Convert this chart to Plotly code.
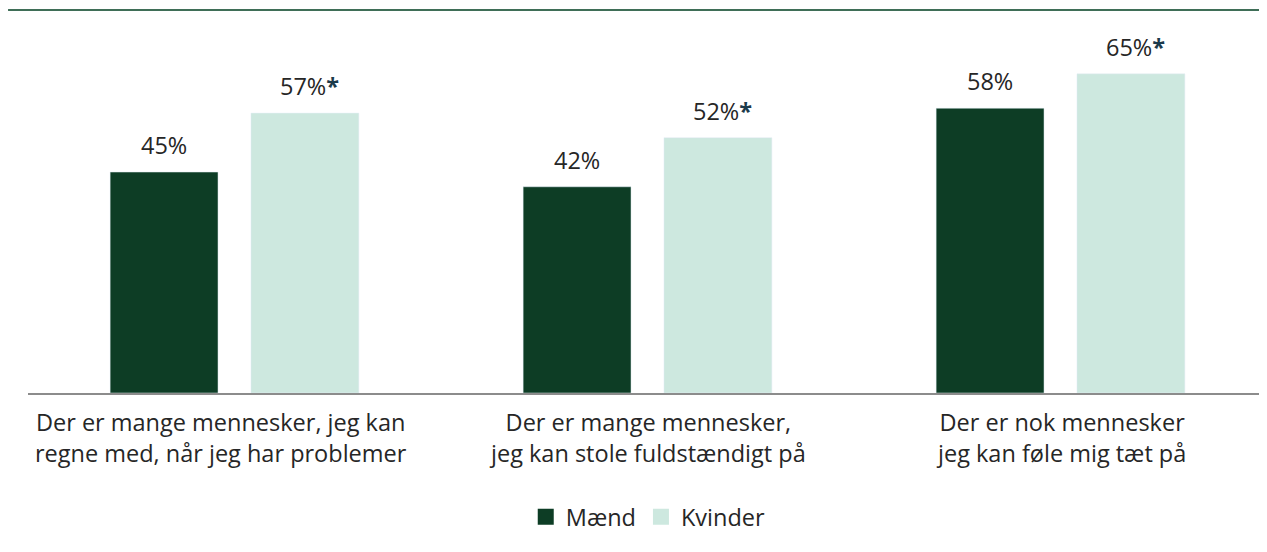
import plotly.graph_objects as go

categories = [
    "Der er mange mennesker, jeg kan<br>regne med, når jeg har problemer",
    "Der er mange mennesker,<br>jeg kan stole fuldstændigt på",
    "Der er nok mennesker<br>jeg kan føle mig tæt på",
]
maend = [45, 42, 58]
kvinder = [57, 52, 65]
kvinder_sig = [True, True, True]

C_M = "#0d3d25"
C_K = "#cde8df"
TXT = "#262626"
FONT = "Open Sans"
FS = 23.5
label_xshift = [-14, 0, 0]

fig = go.Figure()
fig.add_trace(go.Bar(x=categories, y=maend, name="Mænd", marker_color=C_M,
                     showlegend=False, hoverinfo="skip"))
fig.add_trace(go.Bar(x=categories, y=kvinder, name="Kvinder", marker_color=C_K,
                     showlegend=False, hoverinfo="skip"))
# legend proxies
fig.add_trace(go.Scatter(x=[None], y=[None], mode="markers", name="Mænd",
                         marker=dict(symbol="square", size=16, color=C_M)))
fig.add_trace(go.Scatter(x=[None], y=[None], mode="markers", name="Kvinder",
                         marker=dict(symbol="square", size=16, color=C_K)))

ann = []
for c, m, k, s, lx in zip(categories, maend, kvinder, kvinder_sig, label_xshift):
    ann.append(dict(x=c, y=m, xref="x", yref="y", text=f"{m}%", showarrow=False,
                    xshift=-70.5, yshift=9, yanchor="bottom",
                    font=dict(family=FONT, size=FS, color=TXT)))
    star = "<b><span style='color:#1b3a4b'>*</span></b>" if s else ""
    ann.append(dict(x=c, y=k, xref="x", yref="y", text=f"{k}%{star}", showarrow=False,
                    xshift=70.5 + (4 if s else 0), yshift=9, yanchor="bottom",
                    font=dict(family=FONT, size=FS, color=TXT)))
    # category label
    ann.append(dict(x=c, y=0, xref="x", yref="paper", text=c, showarrow=False,
                    xshift=lx, yshift=-11, yanchor="top", align="center",
                    font=dict(family=FONT, size=FS, color=TXT)))

# page body has an 8px margin, so the figure is sized/offset to compensate
fig.update_layout(
    width=1259, height=544,
    margin=dict(l=20, r=0, t=2, b=159, autoexpand=False),
    paper_bgcolor="white", plot_bgcolor="white",
    barmode="group", bargap=0.318, bargroupgap=0.234,
    font=dict(family=FONT, size=FS, color=TXT),
    annotations=ann,
    showlegend=True,
    legend=dict(orientation="h", x=0.5006, xanchor="center", y=-0.324, yanchor="middle",
                font=dict(family=FONT, size=FS, color=TXT), itemwidth=30,
                bgcolor="rgba(0,0,0,0)"),
    shapes=[dict(type="line", xref="paper", yref="paper", x0=-0.0161, x1=1, y0=1, y1=1,
                 line=dict(color="#3f6e57", width=2))],
)
fig.update_xaxes(showline=True, linecolor="#8c8c8c", linewidth=2, ticks="",
                 showticklabels=False,
                 showgrid=False, zeroline=False, automargin=False)
fig.update_yaxes(range=[0, 78], visible=False, showgrid=False, zeroline=False)

fig.write_html("out.html")
